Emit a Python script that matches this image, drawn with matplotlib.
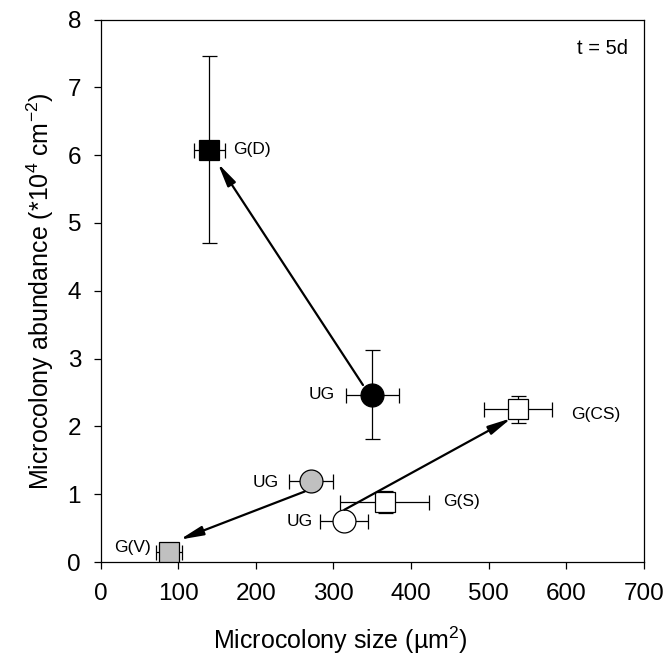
import matplotlib
matplotlib.use('Agg')
import matplotlib.pyplot as plt

plt.rcParams['font.family'] = ['Liberation Sans', 'DejaVu Sans']
plt.rcParams['mathtext.fontset'] = 'custom'
plt.rcParams['mathtext.rm'] = 'Liberation Sans'
plt.rcParams['mathtext.it'] = 'Liberation Sans'

# colony size (um^2) and abundance (*10^4 cm^-2)
labels = ['UG', 'G(D)', 'UG', 'G(V)', 'UG', 'G(S)', 'G(CS)']
size = [350, 140, 271, 88, 314, 366, 538]
size_err = [34, 20, 28, 17, 31, 57, 44]
abund = [2.47, 6.08, 1.19, 0.15, 0.60, 0.89, 2.25]
abund_err = [0.65, 1.38, 0.05, 0.05, 0.05, 0.16, 0.20]
markers = ['o', 's', 'o', 's', 'o', 's', 's']
colors = ['black', 'black', '#c0c0c0', '#c0c0c0', 'white', 'white', 'white']

# arrows: (from, to) in data units
arrow_from = [(338, 2.61), (263, 1.04), (314, 0.77)]
arrow_to = [(151, 5.88), (102, 0.33), (529, 2.12)]

# label offsets in points
lab_off = [(-27, 0), (17, 0), (-23, -1), (-13, 3), (-23, 0), (42, 0), (38, -4)]
lab_ha = ['right', 'left', 'right', 'right', 'right', 'left', 'left']

fig = plt.figure(figsize=(6.66, 6.64), dpi=100)
ax = fig.add_axes([0.151, 0.1536, 0.816, 0.817])

for i in range(len(size)):
    ms = 16.5 if markers[i] == 'o' else 15
    ax.errorbar(size[i], abund[i], xerr=size_err[i], yerr=abund_err[i],
                fmt='none', ecolor='black', elinewidth=0.9, capsize=5.4,
                capthick=0.9, zorder=2)
    ax.plot(size[i], abund[i], marker=markers[i], ms=ms, mfc=colors[i],
            mec='black', mew=0.9, ls='none', zorder=3)
    ax.annotate(labels[i], (size[i], abund[i]), xytext=lab_off[i],
                textcoords='offset points', ha=lab_ha[i], va='center',
                fontsize=12.5)

for a, b in zip(arrow_from, arrow_to):
    ax.annotate('', xy=b, xytext=a,
                arrowprops=dict(arrowstyle='-|>,head_length=1.0,head_width=0.2',
                                color='black', lw=1.6, mutation_scale=14,
                                shrinkA=0, shrinkB=0), zorder=4)

ax.text(0.97, 0.947, 't = 5d', transform=ax.transAxes, ha='right',
        va='center', fontsize=14.5)

ax.set_xlim(0, 700)
ax.set_ylim(0, 8)
ax.set_xticks(range(0, 701, 100))
ax.set_yticks(range(0, 9))
ax.tick_params(direction='out', length=5, width=0.9, labelsize=17.5,
               top=False, right=False)
ax.tick_params(axis='x', pad=10)
ax.tick_params(axis='y', pad=9)
for s in ax.spines.values():
    s.set_linewidth(0.9)
ax.set_xlabel('Microcolony size (µm$^2$)', fontsize=18)
ax.set_ylabel('Microcolony abundance (*10$^4$ cm$^{-2}$)', fontsize=18,
              labelpad=8)
ax.xaxis.set_label_coords(0.442, -0.115)

fig.savefig('out.png', dpi=100)
